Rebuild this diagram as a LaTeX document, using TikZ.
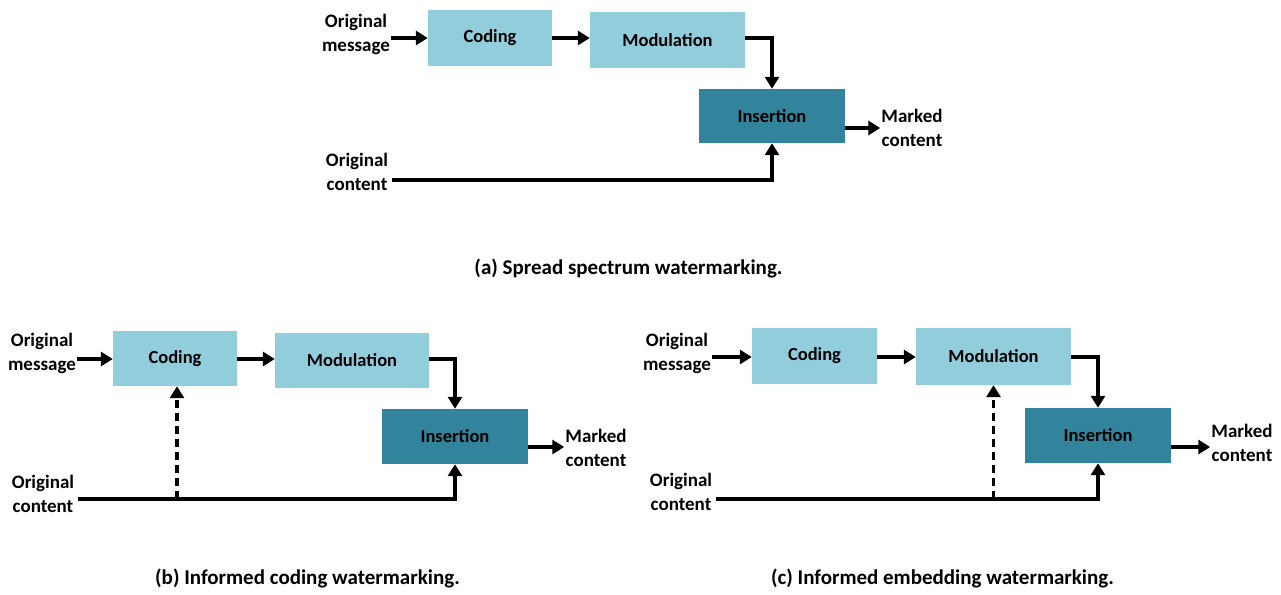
\documentclass[tikz,border=0pt]{standalone}
\usepackage{fontspec}
\setmainfont{Carlito}
\usetikzlibrary{arrows.meta,calc}
\definecolor{lightbox}{HTML}{92CDDC}
\definecolor{darkbox}{HTML}{31849B}
\begin{document}
\begin{tikzpicture}[x=1pt,y=-1pt,
  every node/.style={font=\fontsize{18.5}{24}\selectfont\bfseries},
  lbox/.style={fill=lightbox, draw=none, inner sep=0pt},
  dbox/.style={fill=darkbox, draw=none, inner sep=0pt},
  lbl/.style={align=center, inner sep=1pt, font=\fontsize{19}{24}\selectfont\bfseries},
  captext/.style={font=\fontsize{21}{26}\selectfont\bfseries},
  arr/.style={line width=3.2pt, -{Triangle[length=12pt,width=14pt]}},
  dsh/.style={line width=3.2pt, dash pattern=on 8pt off 5pt, -{Triangle[length=12pt,width=14pt]}}]
\useasboundingbox (0,0) rectangle (1281,594);

% ---------- (a) ----------
\node[lbox, minimum width=124pt, minimum height=56pt] (codA) at (490,38) {Coding};
\node[lbox, minimum width=155pt, minimum height=56pt] (modA) at (667.5,40) {Modulation};
\node[dbox, minimum width=146pt, minimum height=54pt] (insA) at (772,116) {Insertion};
\node[lbl] (msgA) at (356,34) {Original\\message};
\node[lbl] (conA) at (357,172) {Original\\content};
\node[lbl] (mkA) at (912,128) {Marked\\content};
\coordinate (cA) at (392,180);
\draw[arr] (msgA.east |- codA) -- (codA.west);
\draw[arr] (codA.east) -- (codA.east -| modA.west);
\draw[arr] (modA.east |- codA) -| (insA.north);
\draw[arr] (cA) -| (insA.south);
\draw[arr] (insA.east |- mkA) -- (mkA.west);
\node[captext] (capA) at (628.5,268) {(a) Spread spectrum watermarking.};

% ---------- (b) ----------
\node[lbox, minimum width=124pt, minimum height=55pt] (codB) at (175,358.5) {Coding};
\node[lbox, minimum width=154pt, minimum height=55pt] (modB) at (352,360.5) {Modulation};
\node[dbox, minimum width=146pt, minimum height=55pt] (insB) at (455,436.5) {Insertion};
\node[lbl] (msgB) at (42,353) {Original\\message};
\node[lbl] (conB) at (43,493.5) {Original\\content};
\node[lbl] (mkB) at (596,448) {Marked\\content};
\coordinate (cB) at (78,499);
\coordinate (dB) at (177,499);
\draw[arr] (msgB.east |- 0,359) -- (codB.west |- 0,359);
\draw[arr] (codB.east |- 0,359) -- (modB.west |- 0,359);
\draw[arr] (modB.east |- 0,359) -| (insB.north);
\draw[arr] (cB) -| (insB.south);
\draw[dsh] (dB) -- (dB |- codB.south);
\draw[arr] (insB.east |- 0,447) -- (mkB.west |- 0,447);
\node[captext] (capB) at (307.5,578) {(b) Informed coding watermarking.};

% ---------- (c) ----------
\node[lbox, minimum width=125pt, minimum height=56pt] (codC) at (814.5,355.5) {Coding};
\node[lbox, minimum width=155pt, minimum height=57pt] (modC) at (993.5,356.5) {Modulation};
\node[dbox, minimum width=146pt, minimum height=55pt] (insC) at (1098,435.5) {Insertion};
\node[lbl] (msgC) at (677,353.5) {Original\\message};
\node[lbl] (conC) at (681,492) {Original\\content};
\node[lbl] (mkC) at (1242,443) {Marked\\content};
\coordinate (cC) at (716,499);
\draw[arr] (msgC.east |- 0,357) -- (codC.west |- 0,357);
\draw[arr] (codC.east |- 0,357) -- (modC.west |- 0,357);
\draw[arr] (modC.east |- 0,357) -| (insC.north);
\draw[arr] (cC) -| (insC.south);
\draw[dsh] (modC.south |- cC) -- (modC.south);
\draw[arr] (insC.east |- 0,447) -- (mkC.west |- 0,447);
\node[captext] (capC) at (942.5,578) {(c) Informed embedding watermarking.};
\end{tikzpicture}
\end{document}
